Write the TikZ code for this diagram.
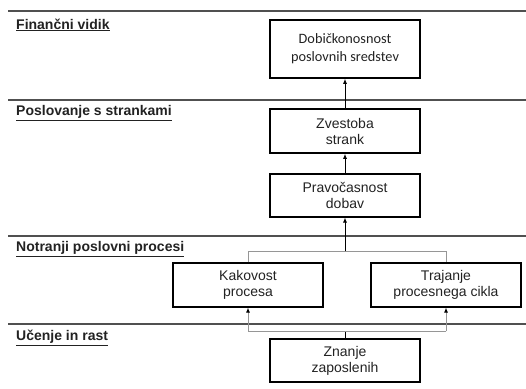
\documentclass[tikz,border=0pt]{standalone}
\usepackage{fontspec}
\setmainfont{Liberation Sans}
\newfontfamily\carlito{Carlito}
\usepackage{xcolor}
\definecolor{ink}{RGB}{34, 34, 34}
\definecolor{rule}{RGB}{80, 80, 80}
\definecolor{link}{RGB}{150, 150, 150}
\usepackage{tikz}
\usetikzlibrary{arrows.meta, positioning, calc}

\begin{document}
\begin{tikzpicture}[x=1pt, y=-1pt,
  goalbox/.style={draw=black, line width=1.1pt,
    minimum width=150pt, minimum height=44pt, inner sep=0pt,
    align=center, text=ink, font=\fontsize{14}{16}\selectfont},
  keybox/.style={goalbox, line width=1.7pt},
  layer/.style={anchor=west, inner sep=0pt, text=ink,
    font=\fontsize{14}{16}\selectfont\bfseries},
  sep/.style={draw=rule, line width=1.6pt},
  arr/.style={-{Latex[length=5pt, width=4pt]}, line width=0.8pt, color=black},
  branch/.style={line width=1pt, color=link}]

  \useasboundingbox (0,0) rectangle (526,388);

  % perspective separators
  \foreach \y in {11, 100, 236, 324}
    \draw[sep] (8,\y) -- (526,\y);

  \node[layer] (fin) at (16,25)  {\underline{Finančni vidik}};
  \node[layer] (cus) at (16,113) {\underline{Poslovanje s strankami}};
  \node[layer] (pro) at (16,249) {\underline{Notranji poslovni procesi}};
  \node[layer] (lea) at (16,338) {\underline{Učenje in rast}};

  \node[keybox, minimum height=58pt, font=\carlito\fontsize{14.3}{18}\selectfont]
    (dob) at (345,49) {Dobičkonosnost\\poslovnih sredstev};
  \node[keybox] (zv) at (345,131) {Zvestoba\\strank};
  \node[goalbox, minimum height=43pt] (prav) at (345,195.5) {Pravočasnost\\dobav};
  \node[goalbox] (kak) at (248,285) {Kakovost\\procesa};
  \node[goalbox] (traj) at (446,285) {Trajanje\\procesnega cikla};
  \node[goalbox, minimum height=43pt] (zn) at (345,360.5) {Znanje\\zaposlenih};

  \draw[arr] (zv.north) -- (dob.south);
  \draw[arr] (prav.north) -- (zv.south);

  % processes feed delivery
  \draw[branch] (kak.north) -- ++(0,-11) coordinate (fork) -| (traj.north);
  \draw[arr] (prav.south |- fork) -- (prav.south);

  % knowledge feeds both processes
  \draw[line width=0.8pt] (zn.north) -- ++(0,-7) coordinate (merge);
  \draw[branch] (kak.south |- merge) -- (traj.south |- merge);
  \draw[branch, -{Latex[length=5pt, width=4pt, color=black]}]
    (kak.south |- merge) -- (kak.south);
  \draw[branch, -{Latex[length=5pt, width=4pt, color=black]}]
    (traj.south |- merge) -- (traj.south);

\end{tikzpicture}
\end{document}
